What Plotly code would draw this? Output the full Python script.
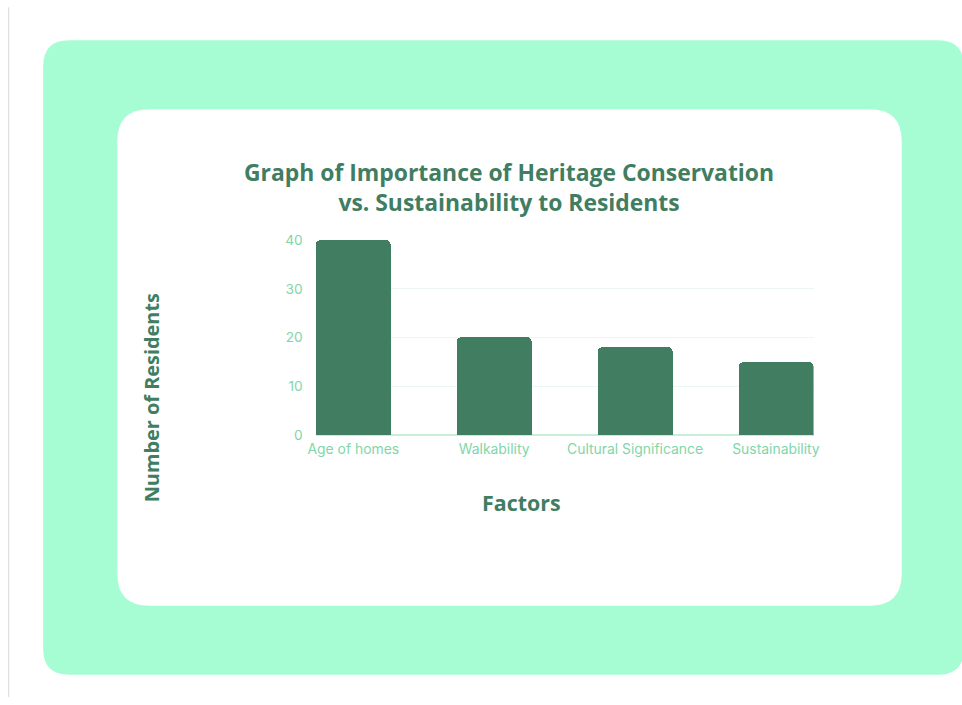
import plotly.graph_objects as go

categories = ["Age of homes", "Walkability", "Cultural Significance", "Sustainability"]
residents = [40, 20, 18, 15]
y_ticks = [0, 10, 20, 30, 40]
grid_ticks = [10, 20, 30]

W, H = 962, 705
# the photographed page is slightly shrunk and offset; positions below are
# given in photographed-window pixels and mapped back to figure pixels
SX, OX = 0.9837, 7.87
SY, OY = 0.978, 7.8
DARK = "#417d61"
LIGHT = "#7fd6a9"
MINT = "#a7fdd3"


def px(x):
    return ((x - OX) / SX) / W


def py(y):
    return 1 - ((y - OY) / SY) / H


def rrect(x0, y0, x1, y1, r):
    # rounded rectangle path in paper coordinates, from window pixel values
    pts = []
    pts.append(f"M {px(x0 + r)},{py(y0)}")
    pts.append(f"L {px(x1 - r)},{py(y0)}")
    pts.append(f"Q {px(x1)},{py(y0)} {px(x1)},{py(y0 + r)}")
    pts.append(f"L {px(x1)},{py(y1 - r)}")
    pts.append(f"Q {px(x1)},{py(y1)} {px(x1 - r)},{py(y1)}")
    pts.append(f"L {px(x0 + r)},{py(y1)}")
    pts.append(f"Q {px(x0)},{py(y1)} {px(x0)},{py(y1 - r)}")
    pts.append(f"L {px(x0)},{py(y0 + r)}")
    pts.append(f"Q {px(x0)},{py(y0)} {px(x0 + r)},{py(y0)}")
    pts.append("Z")
    return " ".join(pts)


fig = go.Figure()
fig.add_trace(go.Bar(
    x=categories,
    y=residents,
    marker=dict(color=DARK, cornerradius=5, line=dict(width=0)),
    width=0.534,
    hoverinfo="x+y",
))

shapes = [
    dict(type="line", xref="paper", yref="paper", x0=0.6 / W, x1=0.6 / W, y0=py(7), y1=0,
         line=dict(color="#e0e0e0", width=1.2), layer="below"),
    dict(type="path", xref="paper", yref="paper", path=rrect(43, 40, 962, 675, 26),
         fillcolor=MINT, line=dict(width=0), layer="below"),
    dict(type="path", xref="paper", yref="paper", path=rrect(117, 109, 900, 606, 32),
         fillcolor="white", line=dict(width=0), layer="below"),
]

fig.update_layout(
    width=W, height=H,
    autosize=False,
    margin=dict(l=0, r=0, t=0, b=0),
    paper_bgcolor="white",
    plot_bgcolor="rgba(0,0,0,0)",
    showlegend=False,
    shapes=shapes,
    font=dict(family="Inter, Open Sans, sans-serif"),
    annotations=[
        dict(text="<b>Graph of Importance of Heritage Conservation<br>vs. Sustainability to Residents</b>",
             xref="paper", yref="paper", x=px(508), y=py(187), xanchor="center", yanchor="middle",
             showarrow=False, font=dict(size=22.9, color=DARK, family="Open Sans, sans-serif"),
             align="center"),
        dict(text="<b>Factors</b>", xref="paper", yref="paper", x=px(520), y=py(503),
             xanchor="center", yanchor="middle", showarrow=False,
             font=dict(size=21.4, color=DARK, family="Open Sans, sans-serif")),
        dict(text="<b>Number of Residents</b>", xref="paper", yref="paper", x=px(152), y=py(398),
             xanchor="center", yanchor="middle", showarrow=False, textangle=-90,
             font=dict(size=19.9, color=DARK, family="Open Sans, sans-serif")),
    ],
    xaxis=dict(
        domain=[px(315), px(812)],
        range=[-0.267, 3.267],
        showgrid=False,
        showline=False,
        zeroline=False,
        ticks="",
        ticklabelstandoff=4,
        tickfont=dict(size=13.9, color=LIGHT),
        fixedrange=True,
    ),
    yaxis=dict(
        domain=[py(435), py(240)],
        range=[0, 40],
        tickvals=y_ticks,
        showgrid=False,
        minor=dict(tickvals=grid_ticks, showgrid=True, gridcolor="#eaf8f1", gridwidth=1, ticks=""),
        zeroline=True,
        zerolinecolor="#c6eed9",
        zerolinewidth=1.5,
        showline=False,
        ticks="",
        ticklabelstandoff=12,
        tickfont=dict(size=13.7, color=LIGHT),
        fixedrange=True,
    ),
    bargap=0,
)

fig.write_html("out.html", config={"responsive": False, "displayModeBar": False})
